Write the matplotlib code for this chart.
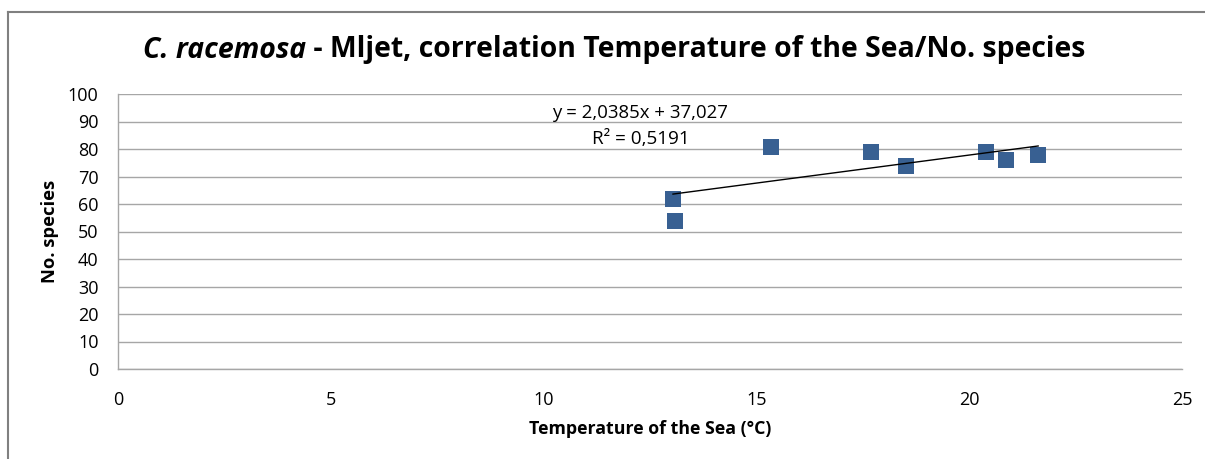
import matplotlib
matplotlib.use("Agg")
import matplotlib.pyplot as plt
from matplotlib import font_manager
import numpy as np

names = {f.name for f in font_manager.fontManager.ttflist}
fam = "Liberation Sans Narrow" if "Liberation Sans Narrow" in names else "Open Sans"
plt.rcParams['font.family'] = [fam, 'DejaVu Sans']

temperature = [13.04, 13.09, 15.34, 17.69, 18.52, 20.39, 20.86, 21.62]
species = [61.8, 53.8, 80.7, 78.9, 73.8, 78.9, 76.0, 77.8]
slope = 2.0385
intercept = 37.027
r2 = 0.5191
x_ticks = [0, 5, 10, 15, 20, 25]
y_ticks = [0, 10, 20, 30, 40, 50, 60, 70, 80, 90, 100]

W, H = 1205, 459
fig = plt.figure(figsize=(W/100, H/100), dpi=100)
ax = fig.add_axes([118/W, 1-369/H, (1182-118)/W, (369-94)/H])

ax.scatter(temperature, species, marker='s', s=140, color='#386092', zorder=3, linewidths=0)
xs = np.array([min(temperature), max(temperature)])
ax.plot(xs, slope*xs + intercept, color='black', lw=1.0, zorder=4)

ax.set_xlim(0, 25)
ax.set_ylim(0, 100)
ax.set_xticks(x_ticks)
ax.set_yticks(y_ticks)
ax.tick_params(axis='both', length=0, labelsize=13, colors='black')
ax.tick_params(axis='x', pad=16)
ax.tick_params(axis='y', pad=14)
ax.grid(axis='y', color='#A6A6A6', lw=1)
ax.set_axisbelow(True)
for s in ['top', 'right']:
    ax.spines[s].set_visible(False)
for s in ['left', 'bottom']:
    ax.spines[s].set_color('#A6A6A6')
    ax.spines[s].set_linewidth(1)

ax.set_xlabel('Temperature of the Sea (°C)', fontsize=12.8, fontweight='bold', labelpad=8)
ax.set_ylabel('No. species', fontsize=13.2, fontweight='bold', labelpad=6)

ax.text(640/W, 1-113/H, 'y = 2,0385x + 37,027', transform=fig.transFigure,
        fontsize=13.4, ha='center', va='center')
ax.text(641/W, 1-139/H, 'R² = 0,5191', transform=fig.transFigure,
        fontsize=13.6, ha='center', va='center')

t1 = fig.text(0, 0, 'C. racemosa', fontsize=20.4, fontweight='bold', fontstyle='italic')
t2 = fig.text(0, 0, ' - Mljet, correlation Temperature of the Sea/No. species', fontsize=20.4, fontweight='bold')
fig.canvas.draw()
r = fig.canvas.get_renderer()
w1 = t1.get_window_extent(r).width
w2 = t2.get_window_extent(r).width
x0 = 614 - (w1 + w2)/2
t1.set_position((x0/W, 1-50/H)); t1.set_va('center')
t2.set_position(((x0+w1)/W, 1-50/H)); t2.set_va('center')

# outer chart border
fig.add_artist(plt.Line2D([8/W, 8/W], [0, 1-12/H], color='#808080', lw=1.5, transform=fig.transFigure))
fig.add_artist(plt.Line2D([8/W, 1], [1-12/H, 1-12/H], color='#808080', lw=1.5, transform=fig.transFigure))

fig.savefig('out.png', dpi=100)
